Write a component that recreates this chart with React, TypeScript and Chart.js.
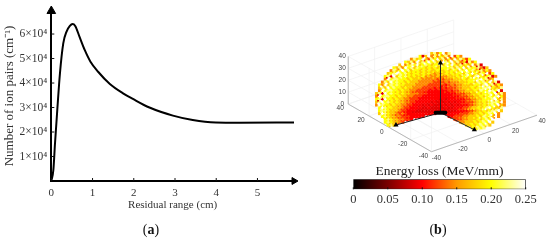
import React, { useEffect, useRef } from "react";
import { Chart, registerables } from "chart.js";

Chart.register(...registerables);

// ---------- panel (a) ----------
const residualRange = [0, 0.05, 0.09, 0.145, 0.21, 0.29, 0.37, 0.45, 0.515, 0.58, 0.69, 0.81, 0.95, 1.135, 1.42, 1.74, 1.98, 2.38, 2.95, 3.43, 3.99, 4.56, 5.89];
const ionPairs = [0, 4500, 15400, 29000, 44000, 56200, 61000, 63300, 64100, 63300, 58600, 53500, 48700, 44600, 39600, 35800, 33500, 30000, 26700, 24900, 23900, 23800, 23900];
const rangeTicks = [0, 1, 2, 3, 4, 5];
const ionTicks = [10000, 20000, 30000, 40000, 50000, 60000];
const ionTickLabels = ["1\u00d710\u2074", "2\u00d710\u2074", "3\u00d710\u2074", "4\u00d710\u2074", "5\u00d710\u2074", "6\u00d710\u2074"];

// ---------- panel (b) ----------
const axisTicks = [-40, -20, 0, 20, 40];
const heightTicks = [0, 10, 20, 30, 40];
// Energy level read per cell of the cloud, top row first.
const cloudRows = [
  "                   6857958",
  "               726958576859475",
  "            586796487968575968647",
  "          7685968797867987968562857",
  "        69578796787677868797686769582",
  "      768597868776767677778687968778526",
  "     58679786776767667667677687978678575",
  "    6789878767767676565676767768797687947",
  "   782968787676675655655566676787689767825",
  "   597887776766655555454555666767778978569",
  "  58697877676665555544445455566677687879682",
  " 7596878776666555544444434545566667768978575",
  " 6869787767665554444343434445566676778897668",
  " 5978877676655444433333334344556667687798792",
  "682978776766555444333333333344455667677879685",
  "597887767665544433333333333334445566767878975",
  "782977676655444333333323233333344556677789685",
  "689787676655443333323232323233344456676788795",
  "598776766554433323232223232323334456676787965",
  " 7987766654433332232222232233344566767897668",
  " 7887666544333222222222222223333445667678896",
  " 69876654543333333233   3333344455667678795",
  "  787665544433333        334445566676878695",
  "   7876655443              44455666767879",
  "   7876654                   556667678796",
  "    786                        667678786",
  "                                 76878",
];
const levelEnergy = [0, 0.04, 0.09, 0.1, 0.12, 0.145, 0.175, 0.2, 0.225, 0.25];
const arrowTips = [
  { x: 0, y: 52 },
  { x: -46, y: -13 },
  { x: 35, y: -18 },
];
const colorbarRange: [number, number] = [0, 0.25];
const colorbarTicks = [0, 0.05, 0.1, 0.15, 0.2, 0.25];
const colorbarStops = [
  [0, "#000000"],
  [0.2, "#7a0000"],
  [0.4, "#ff0000"],
  [0.6, "#ff9a00"],
  [0.8, "#ffff00"],
  [1, "#ffffff"],
] as const;

const SERIF = "'Liberation Serif', serif";
const SANS = "'Liberation Sans', sans-serif";

function hot(e: number) {
  const stops = colorbarStops;
  const t = e / 0.25;
  for (let i = 1; i < stops.length; i++) {
    if (t <= stops[i][0]) {
      const [t0, c0] = stops[i - 1];
      const [t1, c1] = stops[i];
      const f = (t - t0) / (t1 - t0);
      const rgb = [1, 3, 5].map((p) => {
        const a = parseInt(c0.slice(p, p + 2), 16);
        const b = parseInt(c1.slice(p, p + 2), 16);
        return Math.round(a + (b - a) * f);
      });
      return `rgb(${rgb.join(",")})`;
    }
  }
  return "#ffffff";
}

// 3-D axes (a to the right, b to the back left, z up) seen from the figure's viewpoint.
function project(a: number, b: number, z: number) {
  return {
    x: -9.3 + 1.3625 * (a + 40) - 1.075 * (b + 40),
    y: -41 + 0.479 * (a + 40) + 0.625 * (b + 40) + 1.25 * z,
  };
}

function boxSegments() {
  const floor: { x: number; y: number }[][] = [];
  const edges: { x: number; y: number }[][] = [];
  for (const t of axisTicks) {
    floor.push([project(t, -40, 0), project(t, 40, 0)]);
    floor.push([project(-40, t, 0), project(40, t, 0)]);
    floor.push([project(t, 40, 0), project(t, 40, 40)]);
    floor.push([project(-40, t, 0), project(-40, t, 40)]);
  }
  for (const z of heightTicks) {
    floor.push([project(-40, -40, z), project(-40, 40, z), project(40, 40, z)]);
  }
  edges.push([project(-40, 40, 0), project(-40, -40, 0), project(40, -40, 0)]);
  edges.push([project(-40, 40, 0), project(-40, 40, 40)]);
  return { floor, edges };
}

const innerTicks = (xLen: number, yLen: number) => ({
  id: "innerTicks",
  afterDatasetsDraw(chart: any) {
    const { ctx, scales, chartArea } = chart;
    ctx.save();
    ctx.strokeStyle = "#111";
    ctx.lineWidth = 1;
    ctx.beginPath();
    for (const t of scales.x.ticks) {
      const p = scales.x.getPixelForValue(t.value);
      ctx.moveTo(p, chartArea.bottom);
      ctx.lineTo(p, chartArea.bottom - xLen);
    }
    if (yLen > 0) {
      for (const t of scales.y.ticks) {
        if (!t.label) continue;
        const p = scales.y.getPixelForValue(t.value);
        ctx.moveTo(chartArea.left, p);
        ctx.lineTo(chartArea.left + yLen, p);
      }
    }
    ctx.stroke();
    ctx.restore();
  },
});

const boxLabels = {
  id: "boxLabels",
  afterDraw(chart: any) {
    const { ctx, scales } = chart;
    ctx.save();
    ctx.font = `6.5px ${SANS}`;
    ctx.fillStyle = "#444";
    ctx.textAlign = "center";
    ctx.textBaseline = "middle";
    const put = (p: { x: number; y: number }, dx: number, dy: number, s: number) =>
      ctx.fillText(String(s), scales.x.getPixelForValue(p.x) + dx, scales.y.getPixelForValue(p.y) + dy);
    for (const z of heightTicks) put(project(-40, 40, z), -6, 0, z);
    for (const b of axisTicks) put(project(-40, b, 0), -8, 4, b);
    for (const a of axisTicks) put(project(a, -40, 0), 5, 6.5, a);
    ctx.restore();
  },
};

export default function App() {
  const refA = useRef<HTMLCanvasElement>(null);
  const refB = useRef<HTMLCanvasElement>(null);
  const refC = useRef<HTMLCanvasElement>(null);

  useEffect(() => {
    const a = new Chart(refA.current!, {
      type: "scatter",
      data: {
        datasets: [
          {
            data: residualRange.map((x, i) => ({ x, y: ionPairs[i] })),
            showLine: true,
            borderColor: "#000",
            borderWidth: 2,
            pointRadius: 0,
            cubicInterpolationMode: "monotone",
          } as any,
          {
            data: [{ x: 5.886, y: 0 }],
            pointStyle: "triangle",
            pointRotation: 90,
            pointRadius: 4,
            backgroundColor: "#000",
            borderColor: "#000",
            clip: false,
          } as any,
          {
            data: [{ x: 0, y: 69400 }],
            pointStyle: "triangle",
            pointRadius: 5,
            backgroundColor: "#000",
            borderColor: "#000",
            clip: false,
          } as any,
        ],
      },
      options: {
        responsive: false,
        animation: false,
        layout: { padding: { top: 11, right: 5, left: 0, bottom: 30 } },
        plugins: { legend: { display: false }, tooltip: { enabled: false } },
        scales: {
          x: {
            type: "linear",
            min: 0,
            max: 5.886,
            afterFit: (s: any) => { s.height = 31; },
            afterBuildTicks: (s: any) => { s.ticks = rangeTicks.map((value) => ({ value })); },
            border: { color: "#000", width: 2 },
            grid: { display: false, drawTicks: false },
            ticks: { color: "#333", padding: 6, font: { family: SERIF, size: 11 }, maxRotation: 0, callback: (v: any) => String(v) },
            title: { display: true, text: "Residual range (cm)", color: "#333", padding: 0, font: { family: SERIF, size: 11 } },
          },
          y: {
            type: "linear",
            min: 0,
            max: 69400,
            afterFit: (s: any) => { s.width = 51.3; },
            afterBuildTicks: (s: any) => { s.ticks = ionTicks.map((value) => ({ value })); },
            border: { color: "#000", width: 2 },
            grid: { display: false, drawTicks: false },
            ticks: {
              color: "#333",
              padding: 4,
              font: { family: SERIF, size: 11.5 },
              callback: (v: any) => ionTickLabels[ionTicks.indexOf(Number(v))] ?? "",
            },
            title: { display: true, text: "Number of ion pairs (cm\u207b\u00b9)", color: "#333", padding: { top: 2, bottom: 0 }, font: { family: SERIF, size: 13 } },
          },
        },
      } as any,
      plugins: [innerTicks(3, 3)],
    });

    const { floor, edges } = boxSegments();
    const cloudPoints: { x: number; y: number }[] = [];
    const cloudColors: string[] = [];
    const finePoints: { x: number; y: number }[] = [];
    const fineColors: string[] = [];
    cloudRows.forEach((row, r) => {
      [...row].forEach((ch, c) => {
        if (ch === " ") return;
        const x = -66 + c * 3;
        const y = 62 - r * 3;
        cloudPoints.push({ x, y });
        cloudColors.push(hot(levelEnergy[Number(ch)]));
        // the neighbouring read cell, placed between cells, for the finer grain of the cloud
        const near = row[c + 2];
        if (near && near !== " ") {
          finePoints.push({ x: x + 1.5, y: y - 1.5 });
          fineColors.push(hot(levelEnergy[Number(near)]));
        }
      });
    });
    const b = new Chart(refB.current!, {
      type: "scatter",
      data: {
        datasets: [
          ...floor.map((seg) => ({
            data: seg, showLine: true, borderColor: "#f0f0f0", borderWidth: 0.7, pointRadius: 0, order: 6,
          })),
          ...edges.map((seg) => ({
            data: seg, showLine: true, borderColor: "#a8a8a8", borderWidth: 0.8, pointRadius: 0, order: 5,
          })),
          {
            data: cloudPoints,
            pointStyle: "rect",
            pointRadius: 2.2,
            pointBorderWidth: 0,
            pointBackgroundColor: cloudColors,
            order: 4,
          },
          {
            data: finePoints,
            pointStyle: "rect",
            pointRadius: 1.2,
            pointBorderWidth: 0,
            pointBackgroundColor: fineColors,
            order: 3,
          },
          ...arrowTips.map((tip) => ({
            data: [{ x: 0, y: 0 }, tip],
            showLine: true,
            borderColor: "#222",
            borderWidth: 1,
            pointStyle: "triangle",
            pointRadius: [0, 3],
            pointBackgroundColor: "#000",
            pointBorderWidth: 0,
            order: 2,
          })),
          {
            data: [{ x: -5, y: 0 }, { x: 5, y: 0 }],
            showLine: true,
            borderColor: "#000",
            borderWidth: 4,
            borderCapStyle: "round",
            pointRadius: 0,
            order: 1,
          },
        ],
      } as any,
      options: {
        responsive: false,
        animation: false,
        layout: { padding: 0 },
        plugins: { legend: { display: false }, tooltip: { enabled: false } },
        scales: {
          x: { type: "linear", min: -141, max: 109, display: false },
          y: { type: "linear", min: -56, max: 114, display: false },
        },
      } as any,
      plugins: [boxLabels],
    });

    const c = new Chart(refC.current!, {
      type: "bar",
      data: {
        labels: ["Energy loss"],
        datasets: [
          {
            data: [colorbarRange],
            barPercentage: 1,
            categoryPercentage: 1,
            borderColor: "#222",
            borderWidth: 1,
            borderSkipped: false,
            backgroundColor: (ctx: any) => {
              const area = ctx.chart.chartArea;
              if (!area) return "#000";
              const g = ctx.chart.ctx.createLinearGradient(area.left, 0, area.right, 0);
              colorbarStops.forEach(([t, col]) => g.addColorStop(t, col));
              return g;
            },
          } as any,
        ],
      },
      options: {
        responsive: false,
        animation: false,
        indexAxis: "y",
        layout: { padding: { left: 53.3, right: 24.3, top: 0, bottom: 0 } },
        plugins: {
          legend: { display: false },
          tooltip: { enabled: false },
          title: {
            display: true,
            text: "Energy loss (MeV/mm)",
            color: "#222",
            padding: { top: 0, bottom: 0 },
            font: { family: SERIF, size: 13.5, weight: "normal" },
          },
        },
        scales: {
          y: { display: false },
          x: {
            type: "linear",
            min: 0,
            max: 0.25,
            afterFit: (s: any) => { s.height = 37.7; },
            afterBuildTicks: (s: any) => { s.ticks = colorbarTicks.map((value) => ({ value })); },
            border: { display: false },
            grid: { display: false, drawTicks: false },
            ticks: {
              color: "#333",
              padding: 3,
              maxRotation: 0,
              font: { family: SERIF, size: 12.5 },
              callback: (v: any) => (Number(v) === 0 ? "0" : Number(v).toFixed(2)),
            },
          },
        },
      } as any,
      plugins: [innerTicks(2, 0)],
    });

    return () => {
      a.destroy();
      b.destroy();
      c.destroy();
    };
  }, []);

  const abs = (left: number, top: number, blur: number): React.CSSProperties => ({ position: "absolute", left, top, display: "block", filter: `blur(${blur}px)` });
  const caption = (left: number): React.CSSProperties => ({
    position: "absolute", left, top: 222, transform: "translateX(-50%)", font: `14px ${SERIF}`, color: "#111", lineHeight: "16px",
  });

  return (
    <div style={{ position: "fixed", left: 0, top: 0, width: 550, height: 242, background: "#fff", overflow: "hidden" }}>
      <canvas ref={refA} width={300} height={242} style={abs(0, 0, 0.4)} />
      <canvas ref={refB} width={250} height={170} style={abs(300, 0, 0.6)} />
      <canvas ref={refC} width={250} height={64} style={abs(300, 163, 0.4)} />
      <div style={caption(151)}>(<b>a</b>)</div>
      <div style={caption(438)}>(<b>b</b>)</div>
    </div>
  );
}
